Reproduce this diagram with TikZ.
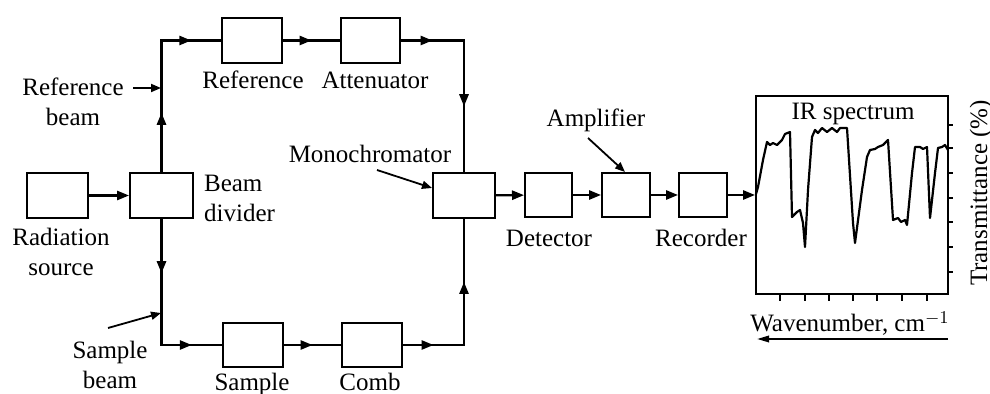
\documentclass[tikz,border=0pt]{standalone}
\usepackage{fontspec}
\setmainfont{Liberation Serif}
\usetikzlibrary{arrows.meta,decorations.markings}
\begin{document}
\begin{tikzpicture}[x=0.5pt,y=-0.5pt,line width=1.1pt,line cap=rect,
  box/.style={draw,line width=1pt,minimum width=30pt,minimum height=22.5pt,inner sep=0pt},
  sbox/.style={box,minimum width=24pt,minimum height=22pt},
  lbl/.style={font=\fontsize{12.5}{15}\selectfont,inner sep=0pt},
  tip/.style={-{Triangle[length=6pt,width=4.6pt]}},
  midarr/.style={postaction={decorate},decoration={markings,
     mark=at position #1 with {\arrow{Triangle[length=6pt,width=4.6pt]}}}},
  midarr/.default=0.5,
  thinarr/.style={line width=0.9pt,line cap=butt,-{Triangle[length=5pt,width=4pt]}}]
\useasboundingbox (0,0) rectangle (990,394);
% boxes
\node[box,minimum width=30.5pt] (src) at (57.5,195.5) {};
\node[box,minimum width=31.5pt] (div) at (161.5,195.5) {};
\node[box,minimum width=31pt] (mono) at (464,195.5) {};
\node[box] (ref) at (252,40.5) {};
\node[box,minimum width=29.5pt] (att) at (370.5,40.5) {};
\node[box,minimum height=22pt] (sample) at (253,345) {};
\node[box,minimum height=22pt] (comb) at (372,345) {};
\node[sbox,minimum width=23.5pt] (det) at (548.5,195) {};
\node[sbox] (amp) at (626,195) {};
\node[sbox] (rec) at (703,195) {};
\node[draw,line width=1pt,minimum width=96pt,minimum height=99pt,inner sep=0pt] (spec) at (852,195) {};
% corners
\coordinate (tl) at (div.north |- ref.west);
\coordinate (tr) at (mono.north |- att.east);
\coordinate (bl) at (div.south |- sample.west);
\coordinate (br) at (mono.south |- comb.east);
% reference path
\draw[midarr=0.45] (div.north) -- (tl);
\draw[midarr] (tl) -- (ref.west);
\draw[midarr] (ref.east) -- (att.west);
\draw[midarr] (att.east) -- (tr);
\draw[midarr] (tr) -- (mono.north);
% sample path
\draw[midarr=0.43] (div.south) -- (bl);
\draw[midarr] (bl) -- (sample.west);
\draw[midarr] (sample.east) -- (comb.west);
\draw[midarr] (comb.east) -- (br);
\draw[midarr] (br) -- (mono.south);
% main line
\draw[tip] (src) -- (div);
\draw[tip] (mono) -- (det);
\draw[tip] (det) -- (amp);
\draw[tip] (amp) -- (rec);
\draw[tip] (rec.east) -- (rec.east -| spec.west);
% labels
\node[lbl,anchor=base] (lref) at (253,89) {Reference};
\node[lbl,anchor=base] (latt) at (375,89) {Attenuator};
\node[lbl,anchor=base,align=center] (lrb) at (73,126) {Reference\\beam};
\node[lbl,anchor=base west,align=left] (ldiv) at (203,222) {Beam\\divider};
\node[lbl,anchor=base,align=center] (lsrc) at (61,276) {Radiation\\source};
\node[lbl,anchor=base,align=center] (lsb) at (110,389) {Sample\\beam};
\node[lbl,anchor=base] (lmono) at (370,163) {Monochromator};
\node[lbl,anchor=base] (lamp) at (596,127) {Amplifier};
\node[lbl,anchor=base] (ldet) at (549,247) {Detector};
\node[lbl,anchor=base] (lrec) at (701,247) {Recorder};
\node[lbl,anchor=base] (lsam) at (252,391) {Sample};
\node[lbl,anchor=base] (lcomb) at (370,391) {Comb};
\node[lbl,anchor=base] (lir) at (853,120) {IR spectrum};
\node[lbl,anchor=base] (lwn) at (850,332) {Wavenumber, cm$^{-1}$};
\node[lbl,anchor=base,rotate=90] (ltr) at (987,193) {Transmittance (\%)};
% pointer arrows
\coordinate (rbs) at (133,88); \coordinate (rbe) at (161,88);
\draw[thinarr] (rbs) -- (rbe);
\coordinate (sbs) at (108,328); \coordinate (sbe) at (161,313);
\draw[thinarr] (sbs) -- (sbe);
\coordinate (mos) at (377,170); \coordinate (moe) at (432,188);
\draw[thinarr] (mos) -- (moe);
\coordinate (ams) at (588,138); \coordinate (ame) at (625,172);
\draw[thinarr] (ams) -- (ame);
% spectrum
\foreach \yy in {125,148,173,198,222,247,272} \draw[line width=0.8pt,line cap=butt] (948,\yy) -- (953,\yy);
\foreach \xx in {780,805,829,853,877,902,927} \draw[line width=0.8pt,line cap=butt] (\xx,294) -- (\xx,301);
\draw[line width=1pt,line cap=butt,-{Triangle[length=6pt,width=3.2pt]}] (948,339) -- (757,339);
\draw[line width=1.1pt,line join=round,line cap=round]
 (756,194) -- (758,187) -- (763,160) -- (767,142) -- (770,145) -- (773,143) -- (777,145)
 -- (782,140) -- (785,134) -- (790,132) -- (792,217) -- (797,212) -- (800,210) -- (803,223)
 -- (805,247) -- (808,190) -- (812,137) -- (815,130) -- (818,133) -- (822,128) -- (827,132)
 -- (832,128) -- (837,132) -- (840,128) -- (847,128) -- (853,223) -- (855,243) -- (862,190)
 -- (867,157) -- (870,150) -- (875,149) -- (878,147) -- (883,145) -- (888,140) -- (893,220)
 -- (898,218) -- (901,222) -- (905,220) -- (907,225) -- (912,173) -- (915,147) -- (920,147)
 -- (923,149) -- (927,147) -- (930,218) -- (935,173) -- (938,148) -- (942,147) -- (945,145)
 -- (948,150);
\end{tikzpicture}
\end{document}
